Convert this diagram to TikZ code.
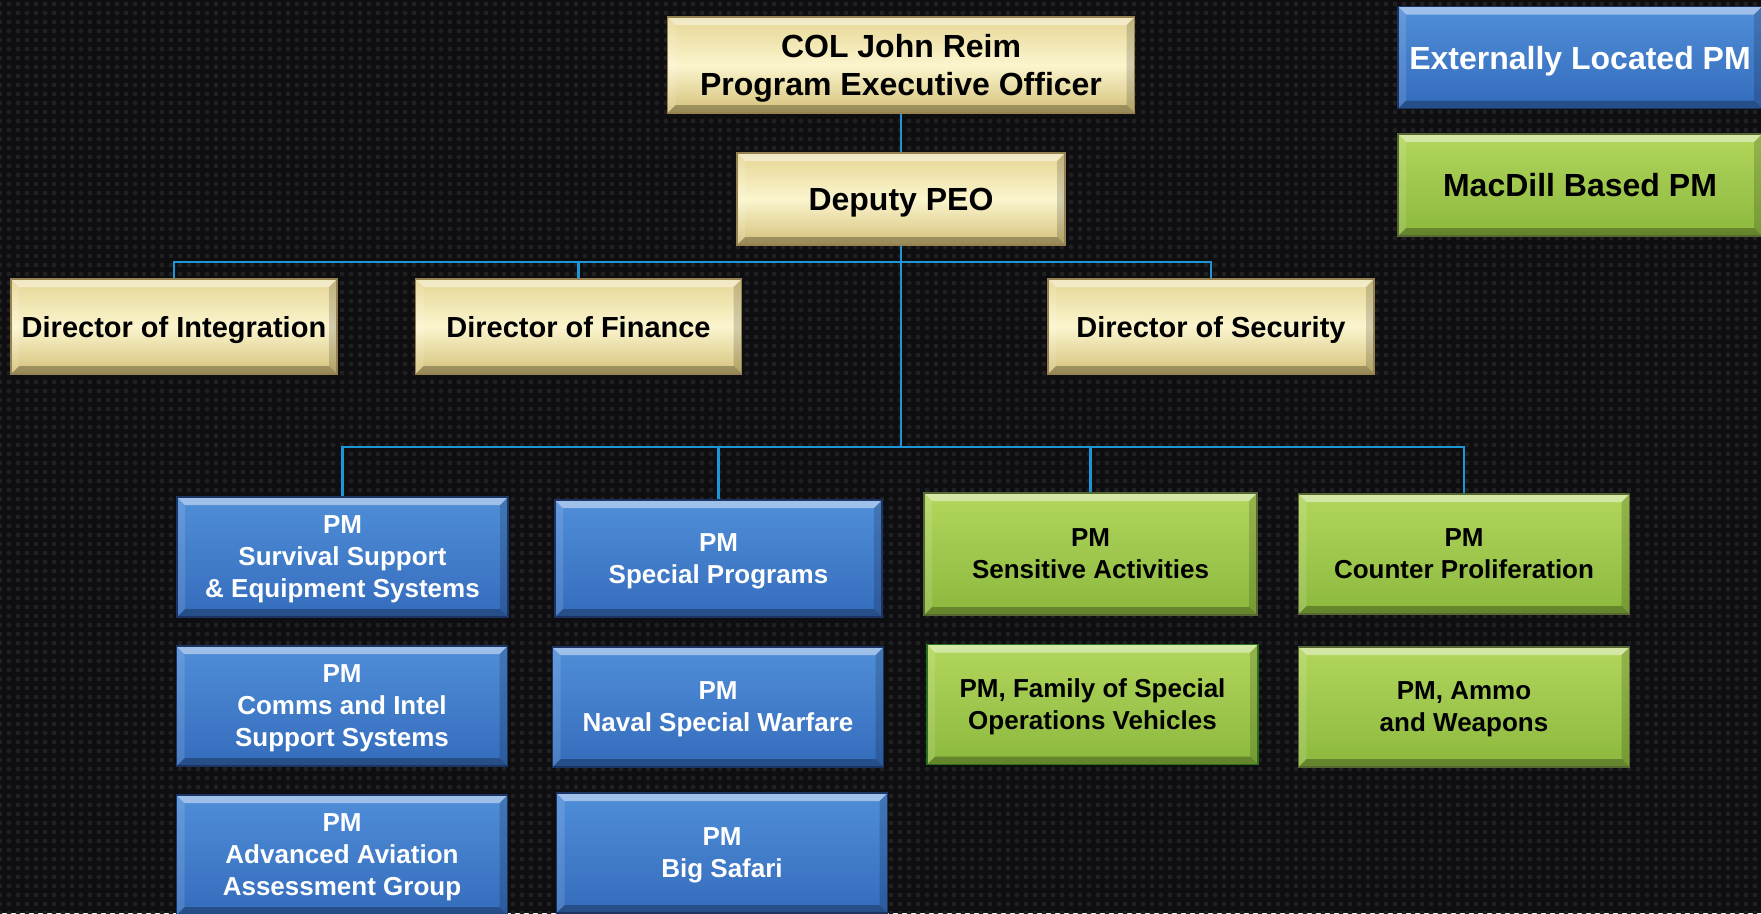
\documentclass[tikz,border=0pt]{standalone}
\usepackage{fontspec}
\setmainfont{Liberation Sans}
\usepackage{xcolor}
\definecolor{bgdark}{RGB}{14,14,16}
\definecolor{bgdot}{RGB}{32,32,35}
\definecolor{orgcyan}{RGB}{28,150,214}
\definecolor{goldtop}{RGB}{230,214,148}
\definecolor{goldmid}{RGB}{251,245,206}
\definecolor{goldbottom}{RGB}{212,192,120}
\definecolor{goldedge}{RGB}{150,130,80}
\definecolor{bluetop}{RGB}{80,142,216}
\definecolor{bluebottom}{RGB}{52,108,188}
\definecolor{blueedge}{RGB}{28,52,100}
\definecolor{greentop}{RGB}{178,214,92}
\definecolor{greenbottom}{RGB}{140,184,62}
\definecolor{greenedge}{RGB}{88,104,52}
\definecolor{fsovedge}{RGB}{40,112,30}
\usepackage{tikz}
\usetikzlibrary{patterns.meta}
\newcommand{\widthstaff}{326pt}
\newcommand{\widthpm}{331pt}
\newcommand{\widthlegend}{364pt}
\tikzset{
    bevel/.style={
        path picture={
            \fill[white, opacity=0.45]
                (path picture bounding box.north west) -- (path picture bounding box.north east)
                -- ([shift={(-8pt,-8pt)}]path picture bounding box.north east)
                -- ([shift={(8pt,-8pt)}]path picture bounding box.north west) -- cycle;
            \fill[black, opacity=0.28]
                (path picture bounding box.south west) -- (path picture bounding box.south east)
                -- ([shift={(-8pt,8pt)}]path picture bounding box.south east)
                -- ([shift={(8pt,8pt)}]path picture bounding box.south west) -- cycle;
            \fill[black, opacity=0.16]
                (path picture bounding box.north east) -- (path picture bounding box.south east)
                -- ([shift={(-8pt,8pt)}]path picture bounding box.south east)
                -- ([shift={(-8pt,-8pt)}]path picture bounding box.north east) -- cycle;
            \fill[white, opacity=0.12]
                (path picture bounding box.north west) -- (path picture bounding box.south west)
                -- ([shift={(8pt,8pt)}]path picture bounding box.south west)
                -- ([shift={(8pt,-8pt)}]path picture bounding box.north west) -- cycle;
        }
    },
    common/.style={draw, rectangle, line width=1.5pt, align=center, inner sep=0pt, bevel,
        text depth=-4pt},
    staffbox/.style={common, draw=goldedge, top color=goldtop, bottom color=goldbottom,
        middle color=goldmid, text=black, minimum width=\widthstaff, minimum height=95pt,
        font=\fontsize{29}{36}\selectfont\bfseries},
    bigtext/.style={font=\fontsize{32}{38}\selectfont\bfseries},
    extbox/.style={common, draw=blueedge, top color=bluetop, bottom color=bluebottom,
        text=white, minimum width=\widthpm, minimum height=120pt, text depth=-9pt,
        font=\fontsize{26}{32}\selectfont\bfseries},
    basebox/.style={common, draw=greenedge, top color=greentop, bottom color=greenbottom,
        text=black, minimum width=\widthpm, minimum height=120pt, text depth=-9pt,
        font=\fontsize{26}{32}\selectfont\bfseries},
    legend/.style={minimum width=\widthlegend, minimum height=102pt, bigtext},
    orgline/.style={orgcyan, line width=2.5pt}
}

\begin{document}
\begin{tikzpicture}[x=1pt, y=-1pt]
    \useasboundingbox (0,0) rectangle (1761,913);
    \clip (0,0) rectangle (1761,913);
    \fill[bgdark] (0,0) rectangle (1761,913);
    \fill[pattern={Dots[distance=9pt, radius=2.4pt]}, pattern color=bgdot] (0,0) rectangle (1761,913);

    % command staff
    \node[staffbox, bigtext, minimum width=467pt, minimum height=96pt] (peo) at (901,65)
        {COL John Reim\\Program Executive Officer};
    \node[staffbox, bigtext, minimum width=328pt, minimum height=92pt] (deputy) at (901,199) {Deputy PEO};
    \node[staffbox] (dir-integration) at (174,326.5) {Director of Integration};
    \node[staffbox] (dir-finance) at (578.5,326.5) {Director of Finance};
    \node[staffbox] (dir-security) at (1211,326.5) {Director of Security};

    % legend
    \node[extbox, legend] (legend-ext) at (1580,57.5) {Externally Located PM};
    \node[basebox, legend] (legend-base) at (1580,185) {MacDill Based PM};

    % program managers
    \node[extbox] (pm-survival) at (342.5,557) {PM\\Survival Support\\\& Equipment Systems};
    \node[extbox, minimum width=327pt, minimum height=117pt] (pm-special) at (718.5,558.5) {PM\\Special Programs};
    \node[basebox, minimum width=333pt, minimum height=122pt] (pm-sensitive) at (1090.5,554) {PM\\Sensitive Activities};
    \node[basebox] (pm-counter) at (1464,554) {PM\\Counter Proliferation};
    \node[extbox] (pm-comms) at (342,706) {PM\\Comms and Intel\\Support Systems};
    \node[extbox] (pm-naval) at (718,707) {PM\\Naval Special Warfare};
    \node[basebox, draw=fsovedge] (pm-fsov) at (1092.5,704.5) {PM, Family of Special\\Operations Vehicles};
    \node[basebox] (pm-ammo) at (1464,707) {PM, Ammo\\and Weapons};
    \node[extbox] (pm-aviation) at (342,855) {PM\\Advanced Aviation\\Assessment Group};
    \node[extbox] (pm-safari) at (722,853) {PM\\Big Safari};

    \coordinate (dir-bus) at (0,262);
    \coordinate (pm-bus) at (0,447);

    \draw[orgline] (peo.south) -- (deputy.north);
    \draw[orgline] (deputy.south) -- (deputy.south |- pm-bus);
    \draw[orgline] (dir-integration.north) |- (dir-bus -| dir-security.north) -- (dir-security.north);
    \draw[orgline] (dir-finance.north) -- (dir-finance.north |- dir-bus);
    \draw[orgline] (pm-survival.north) |- (pm-bus -| pm-counter.north) -- (pm-counter.north);
    \draw[orgline] (pm-special.north) -- (pm-special.north |- pm-bus);
    \draw[orgline] (pm-sensitive.north) -- (pm-sensitive.north |- pm-bus);
\end{tikzpicture}
\end{document}
